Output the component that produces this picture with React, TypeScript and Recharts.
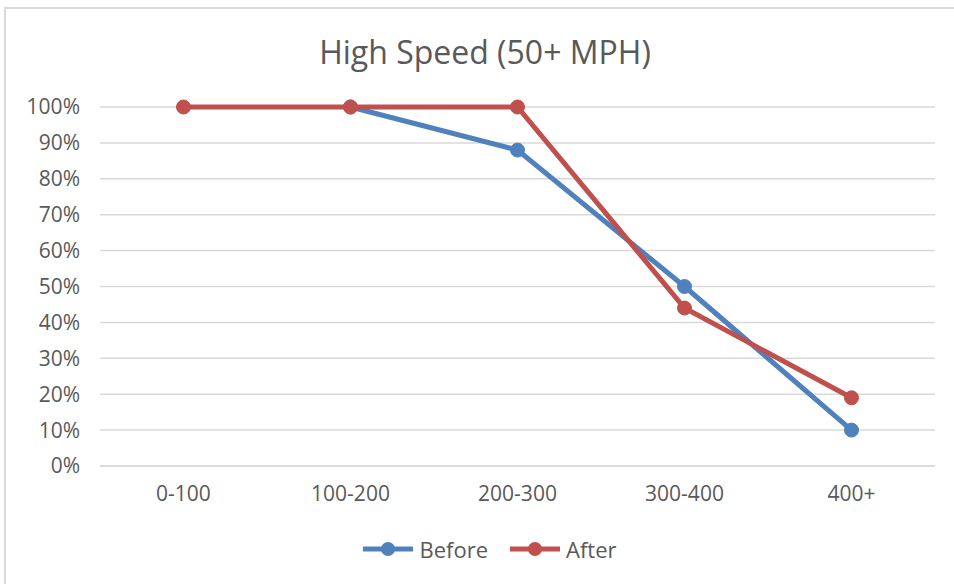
import { LineChart, Line, XAxis, YAxis, CartesianGrid } from 'recharts'

const categories = ['0-100', '100-200', '200-300', '300-400', '400+']
const beforeValues: (number | null)[] = [null, 1.0, 0.88, 0.5, 0.1]
const afterValues = [1.0, 1.0, 1.0, 0.44, 0.19]
const yTicks = [0, 0.1, 0.2, 0.3, 0.4, 0.5, 0.6, 0.7, 0.8, 0.9, 1.0]

const SERIES = [
  { key: 'before', name: 'Before', color: '#4f81bd' },
  { key: 'after', name: 'After', color: '#c0504d' },
]

const FONT = '"Open Sans", "Liberation Sans", sans-serif'
const TEXT = '#595959'
const GRID = '#d9d9d9'

const data = categories.map((c, i) => ({
  name: c,
  before: beforeValues[i],
  after: afterValues[i],
}))

export default function App() {
  return (
    <div style={{ position: 'absolute', left: 0, top: 0, width: 954, height: 584, background: '#fff', overflow: 'hidden', fontFamily: FONT }}>
      {/* chart frame, only top + left edges show */}
      <div style={{ position: 'absolute', left: 4, top: 7, width: 980, height: 600, borderLeft: `2px solid ${GRID}`, borderTop: `2px solid ${GRID}` }} />
      <div style={{ position: 'absolute', left: 0, width: 970, top: 31, textAlign: 'center', fontSize: 32, color: TEXT, lineHeight: '42px' }}>
        High Speed (50+ MPH)
      </div>
      <LineChart width={954} height={584} data={data} margin={{ top: 107, right: 19, left: 0, bottom: 88 }} style={{ position: 'absolute', left: 0, top: 0 }}>
        <CartesianGrid vertical={false} stroke={GRID} strokeWidth={1.5} />
        <XAxis
          dataKey="name"
          height={30}
          padding={{ left: 83.5, right: 83.5 }}
          axisLine={{ stroke: GRID, strokeWidth: 1.5 }}
          tickLine={false}
          tickMargin={14}
          tick={{ fill: TEXT, fontSize: 21, fontFamily: FONT }}
        />
        <YAxis
          width={100}
          domain={[0, 1]}
          ticks={yTicks}
          interval={0}
          axisLine={false}
          tickLine={false}
          tickMargin={14}
          tickFormatter={(v: number) => `${Math.round(v * 100)}%`}
          tick={{ fill: TEXT, fontSize: 21, fontFamily: FONT }}
        />
        {SERIES.map((s) => (
          <Line
            key={s.key}
            dataKey={s.key}
            name={s.name}
            stroke={s.color}
            strokeWidth={5}
            dot={{ r: 7, fill: s.color, stroke: s.color, strokeWidth: 1 }}
            activeDot={false}
            isAnimationActive={false}
          />
        ))}
      </LineChart>
      <div style={{ position: 'absolute', left: 0, width: 980, top: 534, display: 'flex', justifyContent: 'center', gap: 22, fontSize: 22, color: TEXT }}>
        {SERIES.map((s) => (
          <div key={s.key} style={{ display: 'flex', alignItems: 'center', gap: 6 }}>
            <svg width={50} height={30}>
              <line x1={0} y1={15} x2={50} y2={15} stroke={s.color} strokeWidth={5} />
              <circle cx={25} cy={15} r={7} fill={s.color} />
            </svg>
            <span>{s.name}</span>
          </div>
        ))}
      </div>
    </div>
  )
}
